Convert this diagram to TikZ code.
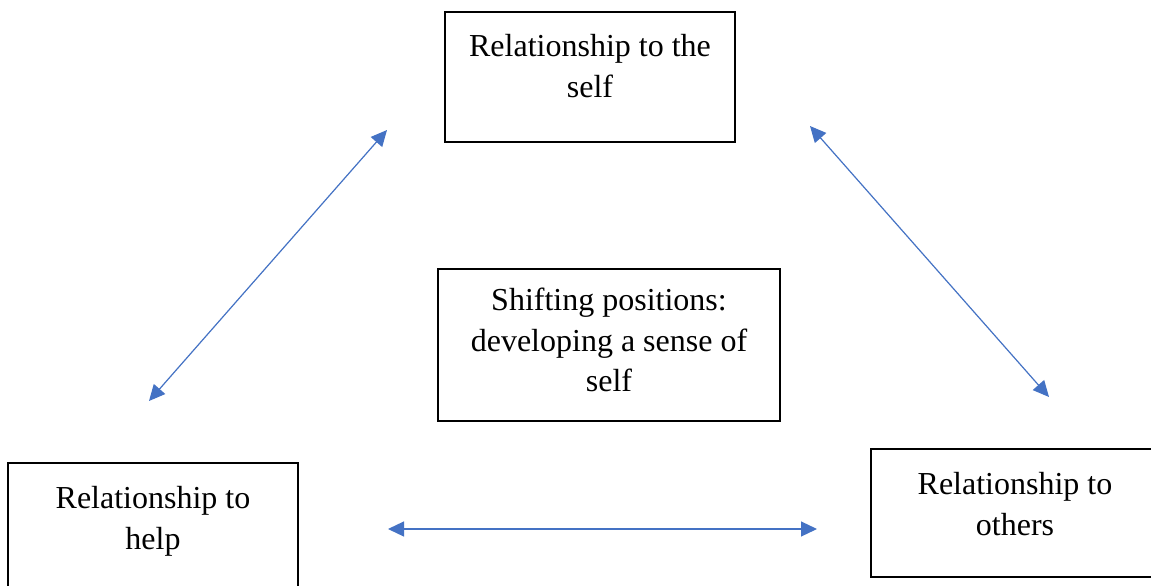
\documentclass[tikz,border=0pt]{standalone}
\usepackage{fontspec}
\setmainfont{Liberation Serif}
\usetikzlibrary{arrows.meta}
\definecolor{arrowblue}{HTML}{4472C4}
\begin{document}
\begin{tikzpicture}[x=1pt,y=-1pt,
  box/.style={draw=black, line width=2.4pt, inner sep=0pt, outer sep=0pt,
    anchor=north west, align=flush center,
    font=\fontsize{32}{40.5}\selectfont},
  link/.style={draw=arrowblue, line width=1.2pt,
    {Triangle[length=16pt,width=15pt]}-{Triangle[length=16pt,width=15pt]}}]
\useasboundingbox (0,0) rectangle (1151,586);
\fill[white] (0,0) rectangle (1151,586);
\clip (0,0) rectangle (1151,586);

\node[box, text width=290pt, text height=44.5pt, text depth=85.5pt] (self) at (445,12)
  {Relationship to the\\self};
\node[box, text width=342pt, text height=41.5pt, text depth=110.5pt] (center) at (438,269)
  {Shifting positions:\\developing a sense of\\self};
\node[box, text width=290pt, text height=45.5pt, text depth=84.5pt] (help) at (8,463)
  {Relationship to\\help};
\node[box, text width=288pt, text height=45.5pt, text depth=82.5pt] (others) at (871,449)
  {Relationship to\\others};

\coordinate (ltop) at (387,130);
\coordinate (lbot) at (149,401);
\coordinate (rtop) at (810,126);
\coordinate (rbot) at (1049,397);
\coordinate (hl) at (388,529);
\coordinate (hr) at (817,529);

\draw[link] (ltop) -- (lbot);
\draw[link] (rtop) -- (rbot);
\draw[link] (hl) -- (hr);
\end{tikzpicture}
\end{document}
